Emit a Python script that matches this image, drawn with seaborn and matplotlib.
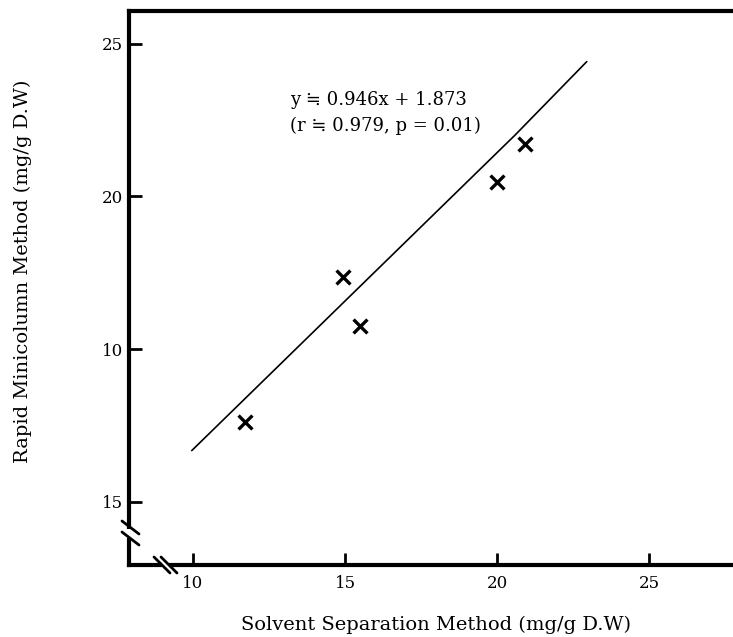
import seaborn as sns
import matplotlib.pyplot as plt
import pandas as pd
from matplotlib.lines import Line2D
from matplotlib.patches import Rectangle

# measured points (solvent separation vs rapid minicolumn)
solvent_x = [11.71, 14.94, 15.49, 19.99, 20.92]
minicolumn_y = [12.62, 17.37, 15.75, 20.49, 21.72]

# hand drawn regression line
line_x = [9.96, 20.6, 22.95]
line_y = [11.67, 22.02, 24.42]

x_ticks = [10, 15, 20, 25]
x_ticklabels = ["10", "15", "20", "25"]
y_ticks = [10, 15, 20, 25]
y_ticklabels = ["15", "10", "20", "25"]   # as printed in the original

eq_text = "y \u2252 0.946x + 1.873\n(r \u2252 0.979, p = 0.01)"

pts = pd.DataFrame({"x": solvent_x, "y": minicolumn_y})
fit = pd.DataFrame({"x": line_x, "y": line_y})

sns.set_style("ticks")
plt.rcParams['font.family'] = ['DejaVu Serif', 'DejaVu Sans']
plt.rcParams['text.color'] = 'black'
plt.rcParams['axes.labelcolor'] = 'black'
plt.rcParams['xtick.color'] = 'black'
plt.rcParams['ytick.color'] = 'black'

W, H = 733, 637
fig = plt.figure(figsize=(W / 100, H / 100), dpi=100)
ax = fig.add_axes([128.5 / W, (H - 565) / H, 1 - 128.5 / W, (565 - 11) / H])

sns.lineplot(data=fit, x="x", y="y", sort=False, estimator=None,
             color="black", linewidth=1.2, ax=ax)
sns.scatterplot(data=pts, x="x", y="y", marker="x", s=100,
                color="black", linewidth=2.4, ax=ax)

ax.set_xlim(7.88, 27.76)
ax.set_ylim(7.92, 26.08)
ax.set_xticks(x_ticks)
ax.set_xticklabels(x_ticklabels)
ax.set_yticks(y_ticks)
ax.set_yticklabels(y_ticklabels)
ax.tick_params(axis="both", which="major", direction="in", length=9,
               width=2, labelsize=12, color="black", labelcolor="black")
ax.tick_params(axis="y", pad=4)
ax.tick_params(axis="x", pad=7)

for side in ["left", "bottom", "top"]:
    ax.spines[side].set_linewidth(3)
    ax.spines[side].set_color("black")
ax.spines["right"].set_visible(False)

ax.set_xlabel("Solvent Separation Method (mg/g D.W)", fontsize=14)
ax.set_ylabel("Rapid Minicolumn Method (mg/g D.W)", fontsize=14)
ax.xaxis.label.set_va("center")
ax.yaxis.label.set_va("center")
ax.xaxis.set_label_coords(0.509, -0.108)
ax.yaxis.set_label_coords(-0.174, 0.531)

ax.text(13.2, 22.74, eq_text, fontsize=13, ha="left", va="center",
        linespacing=1.5, color="black")


# axis break marks, in figure pixels (origin top-left)
def px(x, y):
    return x / W, 1 - y / H


def brk(x0, y0, x1, y1):
    a, b = px(x0, y0)
    c, d = px(x1, y1)
    fig.add_artist(Line2D([a, c], [b, d], color="black", linewidth=2,
                          zorder=6))


def gap(x0, y0, w, h):
    a, b = px(x0, y0 + h)
    fig.add_artist(Rectangle((a, b), w / W, h / H, facecolor="white",
                             edgecolor="none", zorder=5))


gap(124, 529, 10, 9)
brk(122, 521, 139, 534)
brk(122, 532, 139, 545)

gap(162, 559, 7, 10)
brk(154, 557, 170, 573)
brk(161, 557, 177, 573)

fig.savefig("out.png", dpi=100)
